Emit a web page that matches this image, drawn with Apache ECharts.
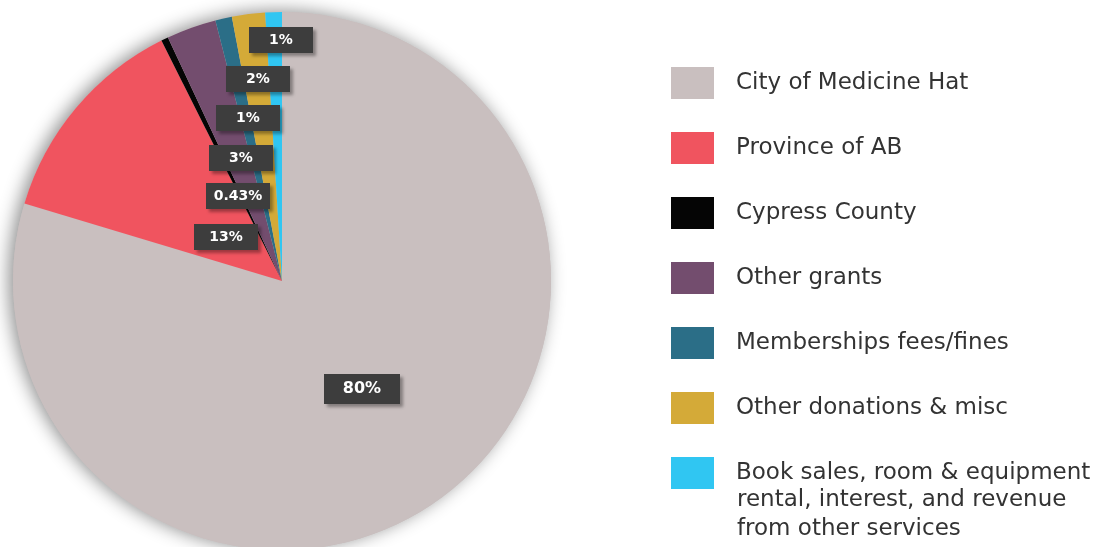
<!DOCTYPE html>
<html>
<head>
<meta charset="utf-8">
<script src="https://cdn.jsdelivr.net/npm/echarts@6/dist/echarts.min.js"></script>
<style>
  html, body { margin: 0; padding: 0; background: #fff; }
  #chart { width: 1105px; height: 547px; }
</style>
</head>
<body>
<div id="chart"></div>
<script>
// revenue sources, share of total (%)
var sources = ['City of Medicine Hat', 'Province of AB', 'Cypress County', 'Other grants',
    'Memberships fees/fines', 'Other donations & misc',
    'Book sales, room & equipment rental, interest, and revenue from other services'];
var shares = [80, 13, 0.43, 3, 1, 2, 1];
var colors = ['#c9bfbf', '#f0545f', '#050505', '#734d6e', '#2b6e87', '#d4aa38', '#30c6f2'];

// where each data label box sits (labels only, not marks)
var labelPos = [[362, 389], [226, 237], [238, 196], [241, 158], [248, 118], [258, 79], [281, 40]];

var FONT = '"DejaVu Sans"';

var chart = echarts.init(document.getElementById('chart'));

var pieData = sources.map(function(name, i) {
    var item = { name: name, value: shares[i], itemStyle: { color: colors[i] } };
    if (i == 0) {
        item.label = { width: 60, padding: [7, 8], fontSize: 16 };
    }
    return item;
});

var option = {
    animation: false,
    legend: {
        orient: 'vertical',
        left: 666,
        top: 62,
        itemWidth: 43,
        itemHeight: 32,
        itemGap: 33,
        icon: 'rect',
        selectedMode: false,
        data: sources,
        formatter: function(name) {
            // long label: first line here, the rest in the graphic below
            return name.indexOf('Book sales') == 0 ? 'Book sales, room & equipment' : name;
        },
        textStyle: {
            fontFamily: FONT,
            fontSize: 23,
            color: '#333',
            padding: [0, 0, 0, 17]
        }
    },
    graphic: [{
        type: 'text',
        left: 737,
        top: 486,
        style: {
            text: 'rental, interest, and revenue\nfrom other services',
            font: '23px ' + FONT,
            fill: '#333',
            lineHeight: 29
        }
    }],
    series: [{
        // soft shadow behind the pie
        type: 'pie',
        silent: true,
        radius: 269,
        center: [282, 281],
        z: 1,
        label: { show: false },
        data: [{ name: '_bg', value: 1, itemStyle: { color: '#c9bfbf', shadowBlur: 18, shadowColor: 'rgba(0,0,0,0.45)', shadowOffsetX: -4, shadowOffsetY: -1 } }]
    }, {
        type: 'pie',
        radius: 269,
        center: [282, 281],
        startAngle: 90,
        clockwise: true,
        z: 2,
        data: pieData,
        label: {
            show: true,
            position: 'inside',
            formatter: '{c}%',
            color: '#fff',
            fontFamily: FONT,
            fontWeight: 'bold',
            fontSize: 14,
            backgroundColor: '#3d3d3d',
            width: 52,
            overflow: 'none',
            align: 'center',
            padding: [6, 6],
            shadowColor: 'rgba(0,0,0,0.35)',
            shadowBlur: 3,
            shadowOffsetX: 3,
            shadowOffsetY: 3
        },
        labelLine: { show: false },
        labelLayout: function(params) {
            var p = labelPos[params.dataIndex];
            return { x: p[0], y: p[1] };
        },
        emphasis: { disabled: true }
    }]
};

chart.setOption(option);
</script>
</body>
</html>
